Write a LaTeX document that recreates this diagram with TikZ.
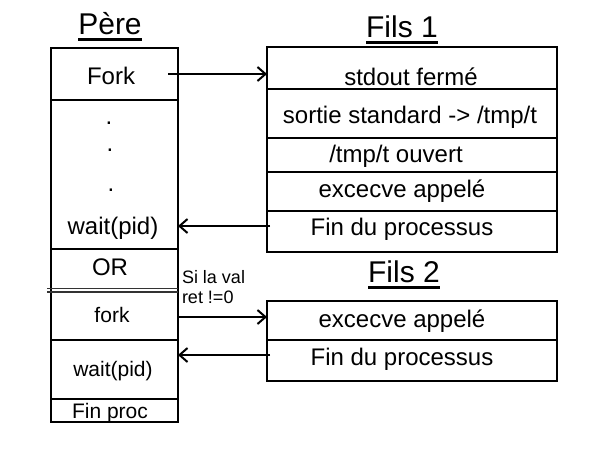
\documentclass[tikz,border=0pt]{standalone}
\usepackage{fontspec}
\setmainfont{Liberation Sans}
\usetikzlibrary{arrows.meta}
\begin{document}
\begin{tikzpicture}[x=1pt,y=-1pt,inner sep=0pt,outer sep=0pt,
procbox/.style={draw,rectangle,line width=2.4pt},
sepline/.style={line width=2pt},
txt/.style={anchor=base,font=\fontsize{24}{28}\selectfont},
smalltxt/.style={anchor=base,font=\fontsize{21}{24}\selectfont},
notetxt/.style={anchor=base west,font=\fontsize{18}{20}\selectfont},
titletxt/.style={anchor=base,font=\fontsize{30}{34}\selectfont},
arr/.style={line width=2pt,-{Straight Barb[length=8pt,width=14pt,line width=2pt]}}]
\useasboundingbox (0,0) rectangle (600,450);
% boites
\draw (114.5,235) node[procbox,minimum width=127pt,minimum height=374pt] (pere) {};
\draw (412,149.5) node[procbox,minimum width=290pt,minimum height=205pt] (fils1) {};
\draw (412,341) node[procbox,minimum width=290pt,minimum height=80pt] (fils2) {};
% titres
\draw (110,34) node[titletxt] (tPere) {Père};
\draw (402,37) node[titletxt] (tFils1) {Fils 1};
\draw (404,282) node[titletxt] (tFils2) {Fils 2};
\foreach \ttl in {tPere,tFils1,tFils2}
  \draw[line width=2.6pt] ([yshift=-5.5pt]\ttl.base west) -- ([yshift=-5.5pt]\ttl.base east);
% separations du pere
\foreach \y in {100,249,340,399}
  \draw[sepline] (pere.west |- 0,\y) -- (pere.east |- 0,\y);
\draw[line width=1.2pt,black!80] (47,288.5) -- (pere.east |- 0,288.5);
\draw[line width=1.2pt,black!80] (47,292) -- (pere.east |- 0,292);
% separations des fils
\foreach \y in {89,138,172,211}
  \draw[sepline] (fils1.west |- 0,\y) -- (fils1.east |- 0,\y);
\draw[sepline] (fils2.west |- 0,340) -- (fils2.east |- 0,340);
% textes du pere
\draw (111,84) node[txt] (pFork) {Fork};
\draw (109,124) node[txt] (pDotA) {.};
\draw (110,151) node[txt] (pDotB) {.};
\draw (111,191) node[txt] (pDotC) {.};
\draw (113,234) node[txt] (pWaitA) {wait(pid)};
\draw (110,275) node[txt] (pOR) {OR};
\draw (112,322) node[smalltxt] (pfork) {fork};
\draw (113,376) node[smalltxt] (pWaitB) {wait(pid)};
\draw (110,418) node[smalltxt] (pFin) {Fin proc};
\draw (182,283) node[notetxt] (nSi) {Si la val};
\draw (182,303) node[notetxt] (nRet) {ret !=0};
% textes des fils
\draw (411,85) node[txt] (fStdout) {stdout fermé};
\draw (410,123) node[txt] (fSortie) {sortie standard -> /tmp/t};
\draw (396,162) node[txt] (fOuvert) {/tmp/t ouvert};
\draw (402,197) node[txt] (fExecA) {excecve appelé};
\draw (402,235) node[txt] (fFinA) {Fin du processus};
\draw (402,327) node[txt] (fExecB) {excecve appelé};
\draw (402,365) node[txt] (fFinB) {Fin du processus};
% fleches
\draw[arr] ([xshift=-10pt]pere.east |- 0,74) -- (fils1.west |- 0,74);
\draw[arr] ([xshift=3pt]fils1.west |- 0,226) -- (pere.east |- 0,226);
\draw[arr] (pere.east |- 0,317) -- (fils2.west |- 0,317);
\draw[arr] ([xshift=3pt]fils2.west |- 0,355) -- (pere.east |- 0,355);
\end{tikzpicture}
\end{document}
